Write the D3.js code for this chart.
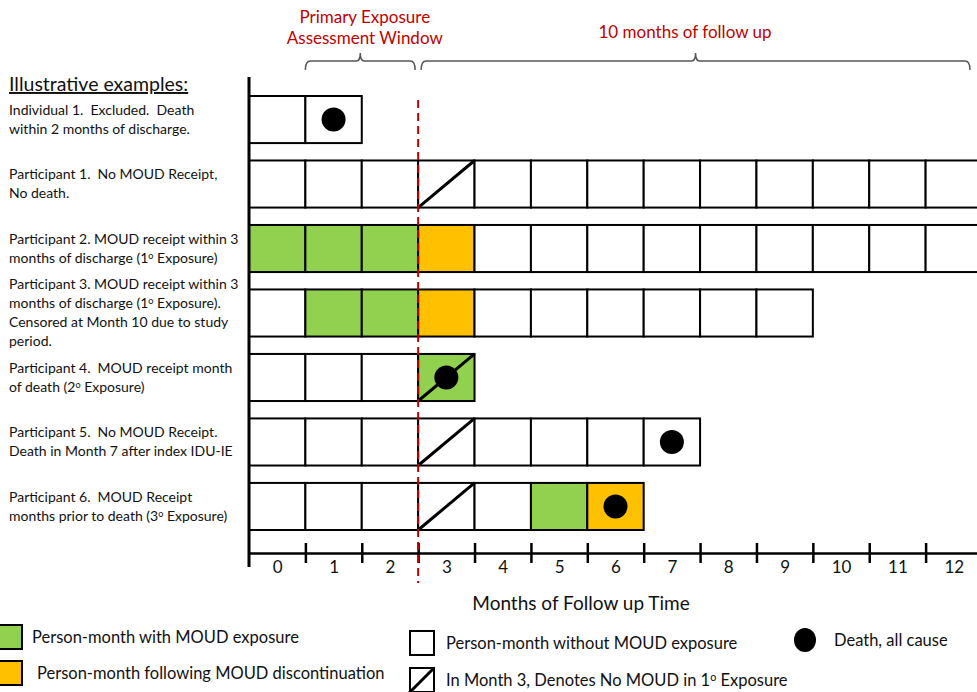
<!DOCTYPE html>
<html>
<head>
<meta charset="utf-8">
<script src="https://cdn.jsdelivr.net/npm/d3@7"></script>
<style>
  body { margin: 0; background: #fff; }
  svg { display: block; font-family: Lato, "Open Sans", sans-serif; }
  svg text { white-space: pre; }
</style>
</head>
<body>
<div id="chart"></div>
<script>
// month numbers on the axis
var months = d3.range(0, 13);

// one entry per example row
var rowIds = ['ind1', 'p1', 'p2', 'p3', 'p4', 'p5', 'p6'];

// '^' marks a superscript piece
var rowLabels = [
    ['Individual 1.  Excluded.  Death', 'within 2 months of discharge.'],
    ['Participant 1.  No MOUD Receipt,', 'No death.'],
    ['Participant 2. MOUD receipt within 3', 'months of discharge (1^o^ Exposure)'],
    ['Participant 3. MOUD receipt within 3', 'months of discharge (1^o^ Exposure).', 'Censored at Month 10 due to study', 'period.'],
    ['Participant 4.  MOUD receipt month', 'of death (2^o^ Exposure)'],
    ['Participant 5.  No MOUD Receipt.', 'Death in Month 7 after index IDU-IE'],
    ['Participant 6.  MOUD Receipt', 'months prior to death (3^o^ Exposure)']
];

// w = no MOUD, g = MOUD exposure, o = after discontinuation
var rowCells = [
    'ww',
    'wwwwwwwwwwwww',
    'gggowwwwwwwww',
    'wggowwwwww',
    'wwwg',
    'wwwwwwww',
    'wwwwwgo'
];
var rowSlash = [null, 3, null, null, 3, 3, 3];
var rowDeath = [1, null, null, null, 3, 7, 6];

var windowTitle = ['Primary Exposure', 'Assessment Window'];
var followTitle = '10 months of follow up';
var xTitle = 'Months of Follow up Time';

var legendKeys = ['g', 'o', 'w', 'slash', 'death'];
var legendLabels = [
    'Person-month with MOUD exposure',
    'Person-month following MOUD discontinuation',
    'Person-month without MOUD exposure',
    'In Month 3, Denotes No MOUD in 1^o^ Exposure',
    'Death, all cause'
];

var fills = { w: '#ffffff', g: '#92d050', o: '#ffc000' };
var red = '#c00000';

var svgWidth = 977;
var svgHeight = 692;

var svg = d3.select('#chart')
    .append('svg')
    .attr('width', svgWidth)
    .attr('height', svgHeight);

var xScale = d3.scaleLinear()
    .domain([0, 13])
    .range([249, 982]);

var yScale = d3.scaleBand()
    .domain(rowIds)
    .range([96, 530])
    .paddingInner(0.27);

var bw = yScale.bandwidth();

// writes text with superscript pieces
function richText(sel, str) {
    str.split('^').forEach(function(part, i) {
        if (!part) return;
        var t = sel.append('tspan').text(part);
        if (i % 2 == 1) {
            t.attr('font-size', '0.65em').attr('baseline-shift', '45%');
        }
    });
}

// row labels
rowIds.forEach(function(id, i) {
    var lines = rowLabels[i];
    var cy = yScale(id) + bw / 2;
    var lh = 19;
    lines.forEach(function(line, j) {
        var t = svg.append('text')
            .attr('x', 9)
            .attr('y', cy + (j - (lines.length - 1) / 2) * lh)
            .attr('dy', '0.35em')
            .attr('font-size', 14)
            .attr('fill', '#111');
        richText(t, line);
    });
});

svg.append('text')
    .attr('x', 9)
    .attr('y', 91)
    .attr('font-size', 19.5)
    .attr('text-decoration', 'underline')
    .attr('fill', '#111')
    .text('Illustrative examples:');

// cells
var rowsGroup = svg.append('g');
rowIds.forEach(function(id, i) {
    var cells = rowCells[i].split('').map(function(c, m) { return { m: m, c: c }; });
    var g = rowsGroup.append('g');
    g.selectAll('rect')
        .data(cells)
        .enter()
        .append('rect')
        .attr('x', d => xScale(d.m))
        .attr('y', yScale(id))
        .attr('width', d => xScale(d.m + 1) - xScale(d.m))
        .attr('height', bw)
        .attr('fill', d => fills[d.c])
        .attr('stroke', '#000')
        .attr('stroke-width', 2);

    if (rowSlash[i] != null) {
        var m = rowSlash[i];
        g.append('line')
            .attr('x1', xScale(m))
            .attr('y1', yScale(id) + bw)
            .attr('x2', xScale(m + 1))
            .attr('y2', yScale(id))
            .attr('stroke', '#000')
            .attr('stroke-width', 3);
    }
    if (rowDeath[i] != null) {
        g.append('circle')
            .attr('cx', xScale(rowDeath[i] + 0.5))
            .attr('cy', yScale(id) + bw / 2)
            .attr('r', 12)
            .attr('fill', '#000');
    }
});

// left axis line
svg.append('line')
    .attr('x1', xScale(0)).attr('x2', xScale(0))
    .attr('y1', 77).attr('y2', 567)
    .attr('stroke', '#000')
    .attr('stroke-width', 3);

// bottom axis: ticks between months
var axisG = svg.append('g')
    .attr('transform', 'translate(0,553)')
    .call(d3.axisBottom(xScale)
        .tickValues(d3.range(1, 13))
        .tickSize(10)
        .tickSizeOuter(0)
        .tickFormat(''));
axisG.select('.domain').attr('stroke-width', 2.5);
axisG.selectAll('.tick line').attr('y1', -10).attr('y2', 10).attr('stroke-width', 2.5);

// month labels centred in each month
var labelG = svg.append('g')
    .attr('transform', 'translate(0,553)')
    .call(d3.axisBottom(xScale)
        .tickValues(months.map(m => m + 0.5))
        .tickFormat(d => d - 0.5)
        .tickSize(0)
        .tickPadding(8));
labelG.select('.domain').remove();
labelG.selectAll('text')
    .attr('font-size', 17)
    .attr('font-family', 'Lato, sans-serif')
    .attr('fill', '#111');

svg.append('text')
    .attr('x', 581)
    .attr('y', 603)
    .attr('dy', '0.35em')
    .attr('text-anchor', 'middle')
    .attr('font-size', 19)
    .attr('fill', '#111')
    .text(xTitle);

// dashed line at start of follow up
svg.append('line')
    .attr('x1', xScale(3)).attr('x2', xScale(3))
    .attr('y1', 100).attr('y2', 583)
    .attr('stroke', red)
    .attr('stroke-width', 2)
    .attr('stroke-dasharray', '8,5');

// curly braces on top
function brace(x0, x1, y) {
    var mid = (x0 + x1) / 2;
    var p = d3.path();
    p.moveTo(x0, y + 9);
    p.quadraticCurveTo(x0, y, x0 + 5, y);
    p.lineTo(mid - 4, y);
    p.quadraticCurveTo(mid, y, mid, y - 8);
    p.quadraticCurveTo(mid, y, mid + 4, y);
    p.lineTo(x1 - 5, y);
    p.quadraticCurveTo(x1, y, x1, y + 9);
    svg.append('path')
        .attr('d', p.toString())
        .attr('fill', 'none')
        .attr('stroke', '#555')
        .attr('stroke-width', 1.5);
}
brace(xScale(1), xScale(3) - 3, 61);
brace(xScale(3) + 3, xScale(13) - 12, 61);

windowTitle.forEach(function(t, i) {
    svg.append('text')
        .attr('x', xScale(2) + 3)
        .attr('y', 17 + i * 21)
        .attr('dy', '0.35em')
        .attr('text-anchor', 'middle')
        .attr('font-size', 17)
        .attr('fill', red)
        .text(t);
});
svg.append('text')
    .attr('x', 685)
    .attr('y', 32)
    .attr('dy', '0.35em')
    .attr('text-anchor', 'middle')
    .attr('font-size', 17)
    .attr('fill', red)
    .text(followTitle);

// legend
var legendPos = {
    g: { x: -2, y: 625, tx: 32 },
    o: { x: -2, y: 661, tx: 37 },
    w: { x: 410, y: 631, tx: 446 },
    slash: { x: 410, y: 668, tx: 446 },
    death: { x: 793, y: 628, tx: 834 }
};
legendKeys.forEach(function(k, i) {
    var p = legendPos[k];
    var g = svg.append('g');
    if (k == 'death') {
        g.append('ellipse')
            .attr('cx', p.x + 12).attr('cy', p.y + 12)
            .attr('rx', 11).attr('ry', 12)
            .attr('fill', '#000');
    } else {
        g.append('rect')
            .attr('x', p.x).attr('y', p.y)
            .attr('width', 24).attr('height', 24)
            .attr('fill', k == 'slash' ? '#fff' : fills[k])
            .attr('stroke', '#000')
            .attr('stroke-width', 2);
        if (k == 'slash') {
            g.append('line')
                .attr('x1', p.x - 1).attr('y1', p.y + 25)
                .attr('x2', p.x + 24).attr('y2', p.y)
                .attr('stroke', '#000')
                .attr('stroke-width', 3);
        }
    }
    var t = g.append('text')
        .attr('x', p.tx)
        .attr('y', p.y + 12)
        .attr('dy', '0.35em')
        .attr('font-size', 16.5)
        .attr('fill', '#111');
    richText(t, legendLabels[i]);
});
</script>
</body>
</html>
